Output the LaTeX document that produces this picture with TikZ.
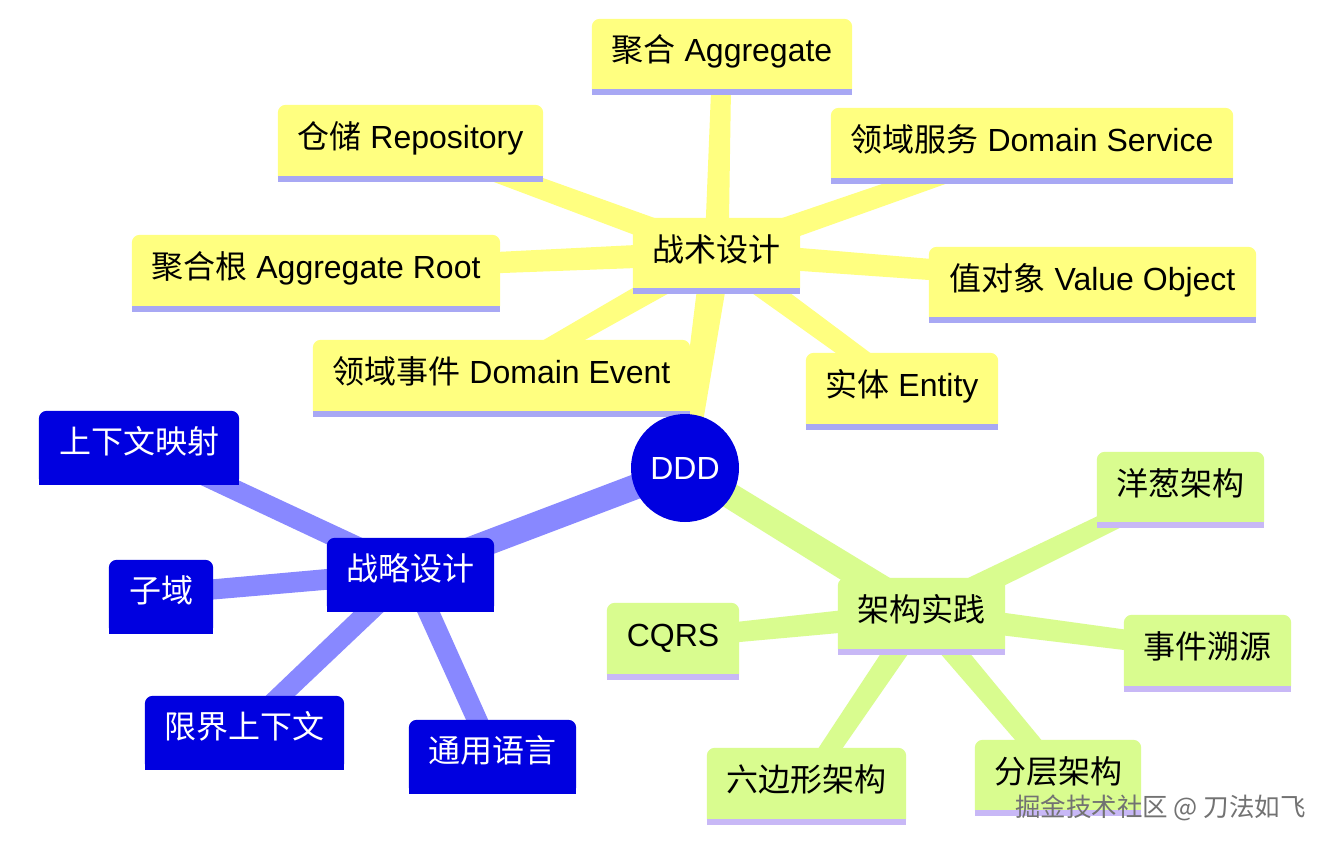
\documentclass[tikz,border=0pt]{standalone}
\usepackage{fontspec}
\setmainfont{Liberation Sans}
\newfontfamily\cjk{Noto Sans CJK SC}
\usetikzlibrary{calc}
\pgfdeclarelayer{bg}
\pgfdeclarelayer{conn}
\pgfdeclarelayer{boxes}
\pgfsetlayers{bg,conn,boxes,main}
\definecolor{yfill}{HTML}{FFFF80}
\definecolor{ybord}{HTML}{A8A8F4}
\definecolor{bfill}{HTML}{0000E0}
\definecolor{bconn}{HTML}{8888FF}
\definecolor{gfill}{HTML}{D9FC8F}
\definecolor{gbord}{HTML}{C8B8F6}
\definecolor{wmgray}{HTML}{727272}
\newcommand\mmtaper[5]{\fill[#5] ($(#1.center)!#3!90:(#2.center)$) -- ($(#2.center)!#4!-90:(#1.center)$) -- ($(#2.center)!#4!90:(#1.center)$) -- ($(#1.center)!#3!-90:(#2.center)$) -- cycle;}
\tikzset{
  mmtext/.style={inner sep=0pt, font=\fontsize{32}{37}\selectfont, text height=22pt, text depth=6pt},
  darktext/.style={mmtext, text=black},
  lighttext/.style={mmtext, text=white},
  rootnode/.style={circle, fill=bfill, inner sep=0pt, minimum size=108pt, text=white, font=\fontsize{32}{37}\selectfont},
  wmark/.style={inner sep=0pt, anchor=west, text=wmgray, font=\cjk\fontsize{25.5}{29}\selectfont},
}
\begin{document}
\begin{tikzpicture}[x=1pt,y=-1pt]
\begin{pgfonlayer}{bg}
\fill[white] (0,0) rectangle (1324,848);
\end{pgfonlayer}
\useasboundingbox (0,0) rectangle (1324,848);

% root
\node[rootnode] (ddd) at (685,468) {DDD};

% tactical design (yellow)
\node[darktext, minimum width=167pt, minimum height=70pt] (tac) at (716.5,253) {\cjk 战术设计};
\node[darktext, minimum width=260pt, minimum height=70pt] (agg) at (722,54) {{\cjk 聚合} Aggregate};
\node[darktext, minimum width=265pt, minimum height=71pt] (repo) at (410.5,140.5) {{\cjk 仓储} Repository};
\node[darktext, minimum width=402pt, minimum height=70pt] (dserv) at (1032,143) {{\cjk 领域服务} Domain Service};
\node[darktext, minimum width=368pt, minimum height=71pt] (aroot) at (316,270.5) {{\cjk 聚合根} Aggregate Root};
\node[darktext, minimum width=327pt, minimum height=70pt] (vobj) at (1092.5,282) {{\cjk 值对象} Value Object};
\node[darktext, minimum width=377pt, minimum height=71pt] (devent) at (501.5,375.5) {{\cjk 领域事件} Domain Event};
\node[darktext, minimum width=192pt, minimum height=71pt] (entity) at (902,388.5) {{\cjk 实体} Entity};

% strategic design (blue)
\node[lighttext, minimum width=167pt, minimum height=68pt] (strat) at (410.5,572) {\cjk 战略设计};
\node[lighttext, minimum width=200pt, minimum height=68pt] (ctxmap) at (139,445) {\cjk 上下文映射};
\node[lighttext, minimum width=104pt, minimum height=68pt] (subdom) at (161,594) {\cjk 子域};
\node[lighttext, minimum width=199pt, minimum height=68pt] (bctx) at (244.5,730) {\cjk 限界上下文};
\node[lighttext, minimum width=167pt, minimum height=68pt] (ulang) at (492.5,754) {\cjk 通用语言};

% architecture practice (green)
\node[darktext, minimum width=167pt, minimum height=71pt] (arch) at (921.5,613.5) {\cjk 架构实践};
\node[darktext, minimum width=167pt, minimum height=70pt] (onion) at (1180.5,487) {\cjk 洋葱架构};
\node[darktext, minimum width=132pt, minimum height=71pt] (cqrs) at (673,638.5) {CQRS};
\node[darktext, minimum width=167pt, minimum height=71pt] (esrc) at (1207.5,650.5) {\cjk 事件溯源};
\node[darktext, minimum width=199pt, minimum height=71pt] (hex) at (806.5,783.5) {\cjk 六边形架构};
\node[darktext, minimum width=166pt, minimum height=70pt] (layer) at (1058,775) {\cjk 分层架构};

% watermark
\node[wmark] (wm) at (1015,808) {掘金技术社区 @ 刀法如飞};

% box shapes
\begin{pgfonlayer}{boxes}
\foreach \n/\f/\b in {tac/yfill/ybord, agg/yfill/ybord, repo/yfill/ybord, dserv/yfill/ybord,
  aroot/yfill/ybord, vobj/yfill/ybord, devent/yfill/ybord, entity/yfill/ybord,
  strat/bfill/bfill, ctxmap/bfill/bfill, subdom/bfill/bfill, bctx/bfill/bfill, ulang/bfill/bfill,
  arch/gfill/gbord, onion/gfill/gbord, cqrs/gfill/gbord, esrc/gfill/gbord, hex/gfill/gbord, layer/gfill/gbord}{
  \fill[\f] (\n.south west) [rounded corners=8pt] -- (\n.north west) -- (\n.north east) [sharp corners] -- (\n.south east) -- cycle;
  \fill[\b] (\n.south west) rectangle ($(\n.south east)+(0,6)$);
}
\end{pgfonlayer}

% connectors
\begin{pgfonlayer}{conn}
\mmtaper{ddd}{tac}{10pt}{15pt}{yfill}
\mmtaper{ddd}{strat}{12.5pt}{12.5pt}{bconn}
\mmtaper{ddd}{arch}{12.5pt}{14pt}{gfill}
\foreach \c in {agg,repo,dserv,aroot,vobj,devent,entity}{\mmtaper{tac}{\c}{12pt}{9.5pt}{yfill}}
\foreach \c in {ctxmap,subdom,bctx,ulang}{\mmtaper{strat}{\c}{10.5pt}{10pt}{bconn}}
\foreach \c in {onion,cqrs,esrc,hex,layer}{\mmtaper{arch}{\c}{12pt}{9.5pt}{gfill}}
\end{pgfonlayer}
\end{tikzpicture}
\end{document}
